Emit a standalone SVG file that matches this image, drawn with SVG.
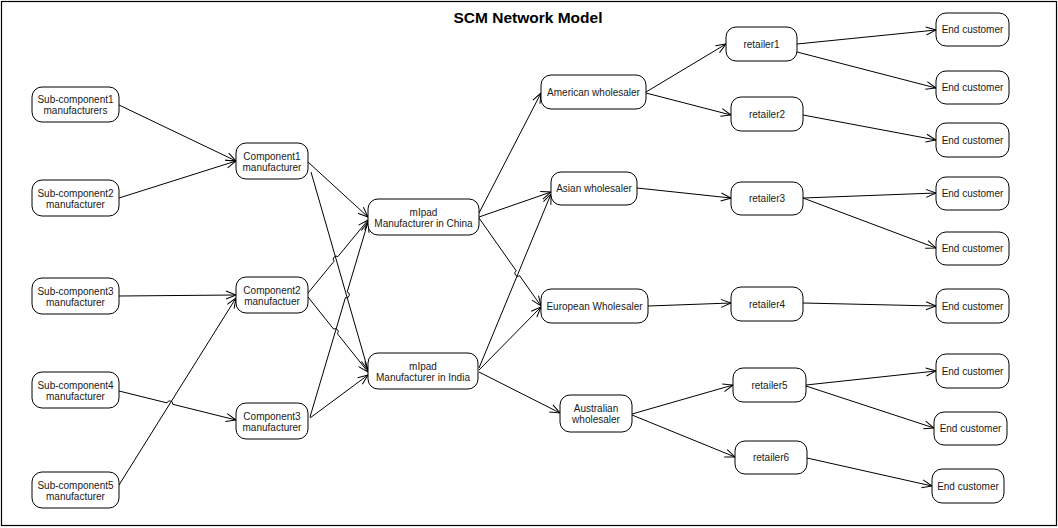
<svg xmlns="http://www.w3.org/2000/svg" width="1058" height="528" viewBox="0 0 1058 528">
<style>
.n rect{fill:#fff;stroke:#000;stroke-width:1}
.n text,.t{font-family:"Liberation Sans",Arial,sans-serif;font-size:10px;fill:#1a1a1a;text-anchor:middle}
.c line,.c path{stroke:#000;stroke-width:1;fill:none;marker-end:url(#ah)}
</style>
<defs>
<marker id="ah" markerUnits="userSpaceOnUse" markerWidth="12" markerHeight="10" refX="10" refY="4" orient="auto" overflow="visible">
<path d="M0,0 L10,4 L0,8" fill="none" stroke="#000" stroke-width="1"/>
</marker>
</defs>
<rect x="0" y="0" width="1058" height="528" fill="#fff"/>
<rect x="1.5" y="1.5" width="1055" height="524" fill="none" stroke="#000" stroke-width="1.2"/>
<text x="528" y="23" style="font-family:'Liberation Sans',Arial,sans-serif;font-size:15.5px;font-weight:bold;text-anchor:middle;fill:#000">SCM Network Model</text>

<g id="connectors" class="c">
<line x1="119" y1="105" x2="236" y2="161"/>
<line x1="119" y1="198" x2="236" y2="161"/>
<line x1="119" y1="296" x2="236" y2="295"/>
<path d="M119,391 L167,402.9 A3,3 0 0 1 172.8,404.3 L236,420"/>
<line x1="119" y1="485" x2="236" y2="298"/>
<line x1="308" y1="162" x2="368" y2="217"/>
<line x1="311" y1="172" x2="368" y2="370"/>
<path d="M308,293 L334.1,261.2 A3,3 0 0 1 337.9,256.6 L368,220"/>
<path d="M308,297 L333.6,329.1 A3,3 0 0 1 337.4,333.7 L368,372"/>
<path d="M310,417 L345.4,297.7 A3,3 0 0 0 347.2,291.9 L368,222"/>
<line x1="310" y1="418" x2="368" y2="375"/>
<line x1="479" y1="213" x2="541" y2="93"/>
<line x1="479" y1="217" x2="551" y2="192"/>
<path d="M479,218 L516.2,270.8 A3,3 0 0 0 519.7,275.8 L541,306"/>
<line x1="479" y1="368" x2="551" y2="194"/>
<line x1="479" y1="370" x2="541" y2="307"/>
<line x1="479" y1="372" x2="560" y2="413"/>
<line x1="646" y1="92" x2="726" y2="44"/>
<line x1="646" y1="93" x2="731" y2="115"/>
<line x1="637" y1="188" x2="731" y2="198"/>
<line x1="648" y1="306" x2="731" y2="303"/>
<line x1="632" y1="414" x2="733" y2="385"/>
<line x1="632" y1="415" x2="735" y2="457"/>
<line x1="797" y1="44" x2="936" y2="30"/>
<line x1="797" y1="52" x2="936" y2="88"/>
<line x1="803" y1="115" x2="936" y2="140"/>
<line x1="803" y1="198" x2="936" y2="193"/>
<line x1="803" y1="198" x2="936" y2="248"/>
<line x1="803" y1="303" x2="936" y2="306"/>
<line x1="806" y1="385" x2="936" y2="371"/>
<line x1="806" y1="386" x2="934" y2="428"/>
<line x1="807" y1="458" x2="932" y2="486"/>
</g>

<g id="sub1" class="n"><rect x="32" y="87" width="87" height="35" rx="10"/><text x="75.5" y="103">Sub-component1</text><text x="75.5" y="114">manufacturers</text></g>
<g id="sub2" class="n"><rect x="32" y="180" width="87" height="36" rx="10"/><text x="75.5" y="196.5">Sub-component2</text><text x="75.5" y="207.5">manufacturer</text></g>
<g id="sub3" class="n"><rect x="32" y="278" width="87" height="36" rx="10"/><text x="75.5" y="294.5">Sub-component3</text><text x="75.5" y="305.5">manufacturer</text></g>
<g id="sub4" class="n"><rect x="32" y="372" width="87" height="36" rx="10"/><text x="75.5" y="388.5">Sub-component4</text><text x="75.5" y="399.5">manufacturer</text></g>
<g id="sub5" class="n"><rect x="32" y="472" width="87" height="36" rx="10"/><text x="75.5" y="488.5">Sub-component5</text><text x="75.5" y="499.5">manufacturer</text></g>

<g id="comp1" class="n"><rect x="236" y="143" width="72" height="36" rx="10"/><text x="272" y="159.5">Component1</text><text x="272" y="170.5">manufacturer</text></g>
<g id="comp2" class="n"><rect x="236" y="277" width="72" height="36" rx="10"/><text x="272" y="293.5">Component2</text><text x="272" y="304.5">manufactuer</text></g>
<g id="comp3" class="n"><rect x="236" y="403" width="72" height="36" rx="10"/><text x="272" y="419.5">Component3</text><text x="272" y="430.5">manufacturer</text></g>

<g id="china" class="n"><rect x="368" y="199" width="111" height="36" rx="10"/><text x="423.5" y="215.5">mIpad</text><text x="423.5" y="226.5">Manufacturer in China</text></g>
<g id="india" class="n"><rect x="368" y="353" width="110" height="36" rx="10"/><text x="423" y="369.5">mIpad</text><text x="423" y="380.5">Manufacturer in India</text></g>

<g id="american" class="n"><rect x="541" y="75" width="105" height="34" rx="10"/><text x="593.5" y="95.5">American wholesaler</text></g>
<g id="asian" class="n"><rect x="551" y="172" width="86" height="33" rx="10"/><text x="594" y="192">Asian wholesaler</text></g>
<g id="european" class="n"><rect x="541" y="289" width="107" height="34" rx="10"/><text x="594.5" y="309.5">European Wholesaler</text></g>
<g id="australian" class="n"><rect x="560" y="395" width="72" height="37" rx="10"/><text x="596" y="412">Australian</text><text x="596" y="423">wholesaler</text></g>

<g id="retailer1" class="n"><rect x="726" y="27" width="71" height="34" rx="10"/><text x="761.5" y="47.5">retailer1</text></g>
<g id="retailer2" class="n"><rect x="731" y="97" width="72" height="34" rx="10"/><text x="767" y="117.5">retailer2</text></g>
<g id="retailer3" class="n"><rect x="731" y="182" width="72" height="33" rx="10"/><text x="767" y="202">retailer3</text></g>
<g id="retailer4" class="n"><rect x="731" y="287" width="72" height="34" rx="10"/><text x="767" y="307.5">retailer4</text></g>
<g id="retailer5" class="n"><rect x="733" y="368" width="73" height="34" rx="10"/><text x="769.5" y="388.5">retailer5</text></g>
<g id="retailer6" class="n"><rect x="735" y="441" width="72" height="33" rx="10"/><text x="771" y="461">retailer6</text></g>

<g id="ec1" class="n"><rect x="936" y="13" width="73" height="33" rx="10"/><text x="972.5" y="33">End customer</text></g>
<g id="ec2" class="n"><rect x="936" y="71" width="73" height="33" rx="10"/><text x="972.5" y="91">End customer</text></g>
<g id="ec3" class="n"><rect x="936" y="123" width="73" height="34" rx="10"/><text x="972.5" y="143.5">End customer</text></g>
<g id="ec4" class="n"><rect x="936" y="177" width="73" height="33" rx="10"/><text x="972.5" y="197">End customer</text></g>
<g id="ec5" class="n"><rect x="936" y="232" width="73" height="33" rx="10"/><text x="972.5" y="252">End customer</text></g>
<g id="ec6" class="n"><rect x="936" y="289" width="73" height="34" rx="10"/><text x="972.5" y="309.5">End customer</text></g>
<g id="ec7" class="n"><rect x="936" y="354" width="73" height="34" rx="10"/><text x="972.5" y="374.5">End customer</text></g>
<g id="ec8" class="n"><rect x="934" y="412" width="73" height="33" rx="10"/><text x="970.5" y="432">End customer</text></g>
<g id="ec9" class="n"><rect x="932" y="469" width="72" height="34" rx="10"/><text x="968" y="489.5">End customer</text></g>
</svg>
